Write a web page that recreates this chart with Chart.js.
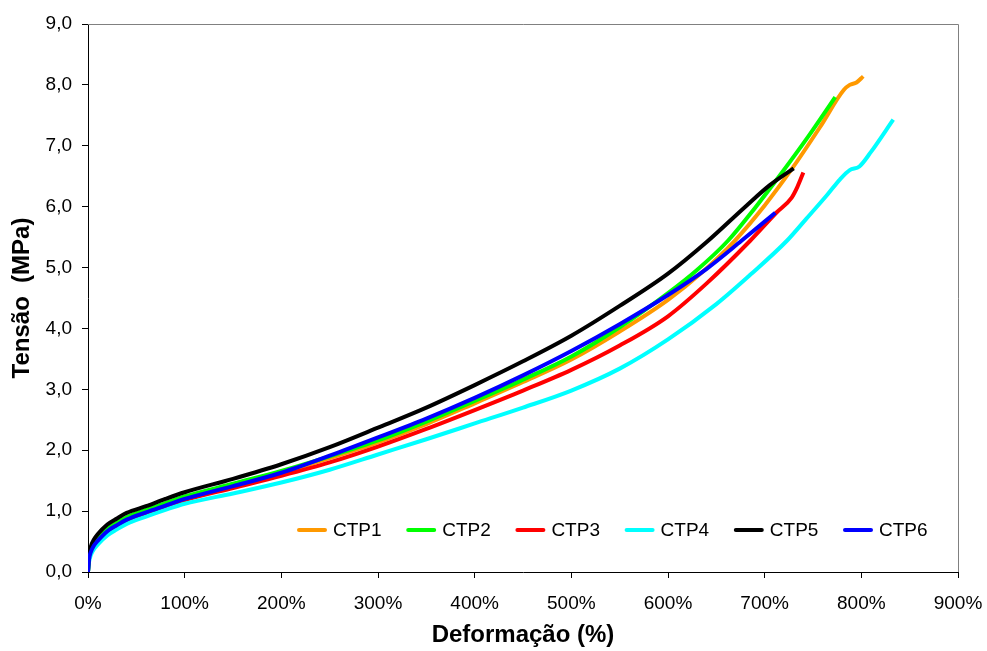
<!DOCTYPE html>
<html><head><meta charset="utf-8">
<script src="https://cdn.jsdelivr.net/npm/chart.js@4/dist/chart.umd.min.js"></script>
<style>html,body{margin:0;padding:0;background:#fff;}#wrap{width:987px;height:651px;position:relative;}</style>
</head><body><div id="wrap"><canvas id="c" width="987" height="651"></canvas></div>
<script>
const seriesNames = ['CTP1','CTP2','CTP3','CTP4','CTP5','CTP6'];
const seriesColors = ['#FF9900','#00FF00','#FF0000','#00FFFF','#000000','#0000FF'];
const xTicks = [0,100,200,300,400,500,600,700,800,900];
const yTicks = [0,1,2,3,4,5,6,7,8,9];

const ctp1Strain = [0,1,3,6,10,20,30,40,60,80,100,150,200,250,300,350,400,450,500,550,600,635,669,700,729,757,782,788,795,802];
const ctp1Stress = [0,0.21,0.35,0.45,0.53,0.69,0.79,0.88,1.0,1.11,1.21,1.42,1.63,1.87,2.13,2.43,2.77,3.12,3.49,3.95,4.47,4.92,5.44,6.02,6.64,7.3,7.92,8.0,8.04,8.14];

const ctp2Strain = [0,1,3,6,10,20,30,40,60,80,100,150,200,250,300,350,400,450,500,550,600,630,662,690,716,745,773];
const ctp2Stress = [0,0.22,0.36,0.46,0.55,0.71,0.81,0.9,1.02,1.13,1.24,1.45,1.66,1.9,2.16,2.47,2.81,3.16,3.54,4.02,4.58,4.96,5.44,5.98,6.52,7.15,7.8];

const ctp3Strain = [0,1,3,6,10,20,30,40,60,80,100,150,200,250,300,350,400,450,500,550,600,640,685,712,728,734,740];
const ctp3Stress = [0.27,0.3,0.35,0.43,0.5,0.64,0.74,0.83,0.96,1.07,1.18,1.38,1.58,1.8,2.06,2.35,2.66,2.98,3.32,3.72,4.2,4.74,5.44,5.9,6.15,6.33,6.56];

const ctp4Strain = [0,1,3,6,10,20,30,40,60,80,100,150,200,250,300,350,400,450,500,550,600,650,685,723,743,765,778,788,798,810,833];
const ctp4Stress = [0,0.16,0.28,0.37,0.45,0.6,0.7,0.79,0.91,1.02,1.12,1.29,1.47,1.68,1.93,2.18,2.44,2.7,2.98,3.34,3.82,4.4,4.88,5.44,5.8,6.2,6.45,6.6,6.66,6.9,7.43];

const ctp5Strain = [0,1,3,6,10,20,30,40,60,80,100,150,200,250,300,350,400,450,500,550,600,640,680,705,730];
const ctp5Stress = [0,0.25,0.42,0.53,0.62,0.78,0.88,0.97,1.08,1.2,1.31,1.53,1.77,2.05,2.37,2.7,3.07,3.46,3.88,4.37,4.9,5.42,6.0,6.35,6.63];

const ctp6Strain = [0,1,3,6,10,20,30,40,60,80,100,150,200,250,300,350,400,450,500,550,600,640,676,711];
const ctp6Stress = [0,0.2,0.33,0.43,0.51,0.67,0.77,0.86,0.98,1.09,1.2,1.41,1.63,1.91,2.21,2.52,2.86,3.23,3.63,4.07,4.55,4.98,5.44,5.9];

const strains = [ctp1Strain,ctp2Strain,ctp3Strain,ctp4Strain,ctp5Strain,ctp6Strain];
const stresses = [ctp1Stress,ctp2Stress,ctp3Stress,ctp4Stress,ctp5Stress,ctp6Stress];

const FONT = '"Liberation Sans", Arial, sans-serif';

const datasets = seriesNames.map((n,i)=>({
  label: n,
  data: strains[i].map((x,k)=>({x:x,y:stresses[i][k]})),
  borderColor: seriesColors[i],
  backgroundColor: seriesColors[i],
  borderWidth: 4,
  pointRadius: 0,
  fill: false,
  cubicInterpolationMode: 'monotone',
  order: seriesNames.length - i
}));

const frame = {
  id: 'frame',
  beforeDatasetsDraw(chart){
    const {ctx, chartArea:a} = chart;
    ctx.save();
    ctx.strokeStyle = '#808080';
    ctx.lineWidth = 1;
    ctx.beginPath();
    ctx.moveTo(a.left, Math.round(a.top)+0.5);
    ctx.lineTo(Math.round(a.right)+0.5, Math.round(a.top)+0.5);
    ctx.lineTo(Math.round(a.right)+0.5, a.bottom);
    ctx.stroke();
    ctx.restore();
  }
};

const inlineLegend = {
  id: 'inlineLegend',
  afterDatasetsDraw(chart){
    const ctx = chart.ctx;
    ctx.save();
    ctx.font = '19px ' + FONT;
    ctx.textBaseline = 'middle';
    ctx.textAlign = 'left';
    const y = 530;
    seriesNames.forEach((n,i)=>{
      const x = 297 + i*109.2;
      ctx.strokeStyle = seriesColors[i];
      ctx.lineWidth = 4;
      ctx.lineCap = 'round';
      ctx.beginPath(); ctx.moveTo(x+2,y); ctx.lineTo(x+28,y); ctx.stroke();
      ctx.fillStyle = '#000';
      ctx.fillText(n, x+36, y+1);
    });
    ctx.restore();
  }
};

const bg = {
  id:'bg',
  beforeDraw(chart){ const c=chart.ctx; c.save(); c.fillStyle='#fff'; c.fillRect(0,0,chart.width,chart.height); c.restore(); }
};

new Chart(document.getElementById('c'), {
  type: 'line',
  data: { datasets },
  options: {
    responsive: false,
    animation: false,
    devicePixelRatio: 1,
    layout: { padding: { top: 24, right: 29, left: 0, bottom: 0 } },
    plugins: { legend: { display: false }, tooltip: { enabled: false } },
    scales: {
      x: {
        type: 'linear', min: 0, max: 900,
        afterFit(s){ s.height = 79; s.paddingLeft = 0; s.paddingRight = 0; },
        afterBuildTicks(s){ s.ticks = xTicks.map(v=>({value:v})); },
        ticks: { color:'#000', font:{family:FONT,size:19}, padding: 14, maxRotation:0, callback:(v)=>v+'%' },
        grid: { display:true, drawOnChartArea:false, drawTicks:true, tickLength:6, color:'#000' },
        border: { color:'#000', width:1 },
        title: { display:true, text:'Deformação (%)', color:'#000', font:{family:FONT,size:24,weight:'bold',lineHeight:1.2}, padding:{top:0,bottom:1} }
      },
      y: {
        type: 'linear', min: 0, max: 9,
        afterFit(s){ s.width = 88; s.paddingTop = 0; s.paddingBottom = 0; },
        afterBuildTicks(s){ s.ticks = yTicks.map(v=>({value:v})); },
        ticks: { color:'#000', font:{family:FONT,size:19}, padding: 10, callback:(v)=>v.toFixed(1).replace('.',',') },
        grid: { display:true, drawOnChartArea:false, drawTicks:true, tickLength:6, color:'#000' },
        border: { color:'#000', width:1 },
        title: { display:true, text:'Tensão  (MPa)', color:'#000', font:{family:FONT,size:24,weight:'bold',lineHeight:1.2}, padding:{top:7.5,bottom:0} }
      }
    }
  },
  plugins: [bg, frame, inlineLegend]
});
</script></body></html>
